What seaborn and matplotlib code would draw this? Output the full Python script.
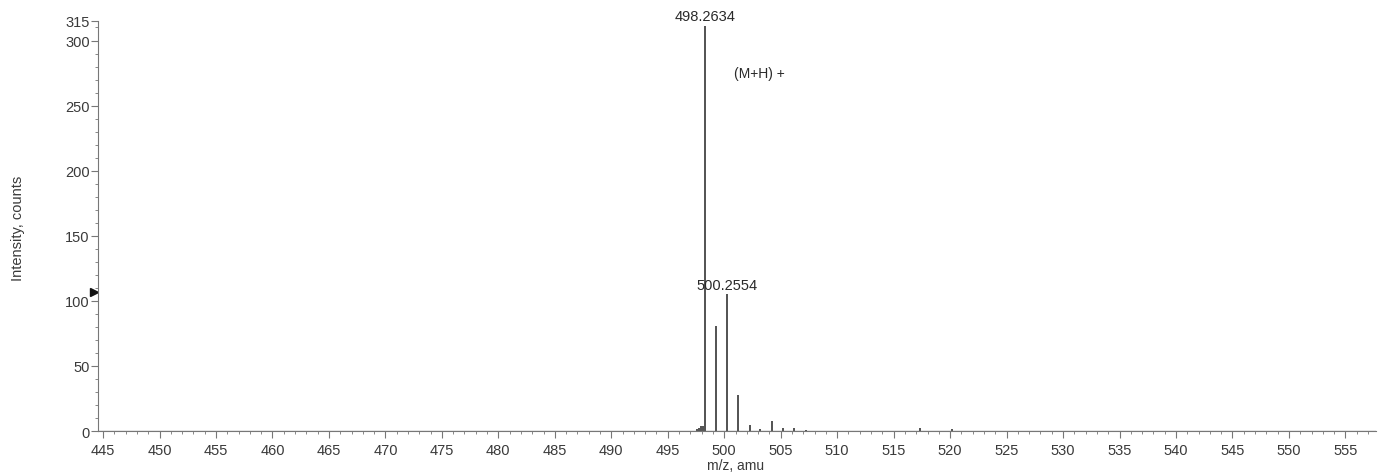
import numpy as np
import matplotlib
matplotlib.use("Agg")
import matplotlib.pyplot as plt
import seaborn as sns
from matplotlib.ticker import MultipleLocator, FixedLocator

# ---- data ----
peak_mz = [497.55, 497.75, 497.95, 498.10, 498.26, 499.27, 500.26, 501.26, 502.26,
           503.2, 504.20, 505.2, 506.2, 507.2, 517.3, 520.2]
peak_int = [1.5, 2.5, 3.5, 4.0, 311, 81, 105, 28, 5,
            1.2, 8, 2.0, 2.5, 1.0, 2.5, 1.5]
annot_mz = [498.2634, 500.2554]
annot_int = [311, 105]
annot_text = ["498.2634", "500.2554"]
ion_label = "(M+H) +"
x_major = list(range(445, 556, 5))
y_major = [0, 50, 100, 150, 200, 250, 300]
x_label = "m/z, amu"
y_label = "Intensity, counts"

sns.set_theme(style="ticks")
plt.rcParams['font.family'] = ['Liberation Sans', 'DejaVu Sans']

W, H = 1394, 477
fig = plt.figure(figsize=(W / 100, H / 100), dpi=100)
ax = fig.add_axes([0.0703, 0.0943, 0.987 - 0.0703, 0.9539 - 0.0943])

col = "#444444"
ax.vlines(peak_mz, 0, peak_int, color=col, linewidth=1.3)
sns.lineplot(x=[444.55, 557.7], y=[0, 0], ax=ax, color="#666666", linewidth=0.9)

ax.set_xlim(444.55, 557.7)
ax.set_ylim(0, 315)

ax.xaxis.set_major_locator(FixedLocator(x_major))
ax.xaxis.set_minor_locator(MultipleLocator(1))
ax.yaxis.set_major_locator(FixedLocator(y_major + [315]))
ax.yaxis.set_minor_locator(MultipleLocator(10))
ax.set_yticklabels([str(v) for v in y_major] + ["315"])

ax.tick_params(axis='both', which='major', labelsize=10.5, colors="#777777",
               labelcolor="#3a3a3a", length=5, width=0.8, direction='out')
ax.tick_params(axis='x', which='major', pad=3.5)
ax.tick_params(axis='y', which='major', pad=1)
ax.tick_params(axis='both', which='minor', length=2.5, width=0.7, colors="#888888")

for s in ['top', 'right']:
    ax.spines[s].set_visible(False)
for s in ['left', 'bottom']:
    ax.spines[s].set_color("#777777")
    ax.spines[s].set_linewidth(0.8)

fig.text(736 / W, 1 - 466 / H, x_label, fontsize=10, color="#3a3a3a",
         ha='center', va='center')
fig.text(18 / W, 1 - 228 / H, y_label, fontsize=10.5, color="#3a3a3a",
         ha='center', va='center', rotation=90)

for mz, h, t in zip(annot_mz, annot_int, annot_text):
    ax.annotate(t, xy=(mz, h), xytext=(0, 2), textcoords='offset points',
                ha='center', va='bottom', fontsize=10.5, color="#2a2a2a")
ax.text(500.9, 275, ion_label, fontsize=10, color="#2a2a2a", ha='left', va='center')

# reference marker on the y-axis
ax.plot([-0.003], [107], marker='>', markersize=5.5, color="#111111",
        transform=ax.get_yaxis_transform(), clip_on=False, linestyle='none')

fig.savefig("out.png", dpi=100)
